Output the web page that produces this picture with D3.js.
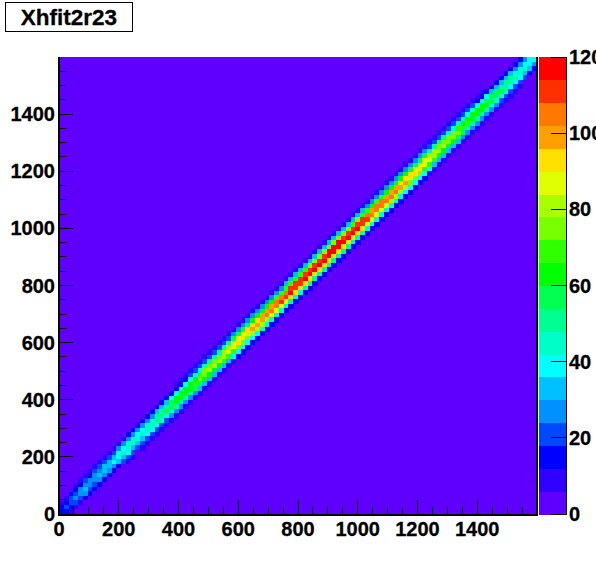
<!DOCTYPE html>
<html><head><meta charset="utf-8">
<style>html,body{margin:0;padding:0;background:#fff}svg{display:block}text{font-family:"Liberation Sans",Arial,sans-serif;font-weight:bold;fill:#000;stroke:#000;stroke-width:.3px}</style>
<script src="https://cdn.jsdelivr.net/npm/d3@7"></script></head><body><div id="c"></div>
<script>
const title = "Xhfit2r23";
const binWidth = 16;
const axisTicks = [0,200,400,600,800,1000,1200,1400];
const colorTicks = [0,20,40,60,80,100,120];
const levelColors = ["#5f00ff","#2f00ff","#0000ff","#0048ff","#0090ff","#00c0ff","#00ffff","#00ffc8","#00ff90","#00ff50","#00ff00","#30ff00","#78ff00","#a8ff00","#e0ff00","#ffe000","#ffa000","#ff7800","#ff3000","#ff0000"];
// counts along the diagonal, one entry per x bin
const ridge = [
16,18,20,24,27,30,28,29,30,32,
34,36,39,42,46,44,42,43,45,47,
50,52,55,58,62,63,62,65,67,72,
75,78,79,80,82,84,88,91,92,95,
97,98,100,102,105,107,109,111,115,113,
112,115,117,116,117,118,119,119,119,118,
116,114,116,112,109,105,107,106,105,104,
102,99,97,95,92,92,89,85,82,80,
78,76,75,73,68,66,65,64,62,60,
57,56,54,52,50,47,45,42,40,36];
// counts in the rows above the diagonal
const up1 = [
15,17,19,23,26,29,27,28,29,31,
33,35,37,40,44,42,40,41,43,45,
48,50,53,56,60,60,60,62,64,69,
72,75,76,77,79,81,84,87,88,91,
93,94,96,98,101,103,105,107,110,108,
108,110,112,111,112,113,114,114,114,113,
111,109,111,108,105,101,103,102,101,100,
98,95,93,91,88,88,85,82,79,77,
75,73,72,70,65,63,62,61,60,58,
55,54,52,50,48,45,43,40,38,35];
const up2 = [
10,11,12,15,17,19,17,18,19,20,
21,22,24,26,29,27,26,27,28,29,
31,32,34,36,38,39,38,40,42,45,
47,48,49,50,51,52,55,56,57,59,
60,61,62,63,65,66,68,69,71,70,
69,71,73,72,73,73,74,74,74,73,
72,71,72,69,68,65,66,66,65,64,
63,61,60,59,57,57,55,53,51,50,
48,47,47,45,42,41,40,40,38,37,
35,35,33,32,31,29,28,26,25,22];
const up3 = [
4,5,5,6,7,8,8,8,8,9,
9,10,11,11,12,12,11,12,12,13,
14,14,15,16,17,17,17,18,18,19,
20,21,21,22,22,23,24,25,25,26,
26,26,27,28,28,29,29,30,31,31,
30,31,32,31,32,32,32,32,32,32,
31,31,31,30,29,28,29,29,28,28,
28,27,26,26,25,25,24,23,22,22,
21,21,20,20,18,18,18,17,17,16,
15,15,15,14,14,13,12,11,11,10];
const up4 = [
1,2,2,2,2,3,3,3,3,3,
3,3,4,4,4,4,4,4,4,4,
5,5,5,5,6,6,6,6,6,6,
7,7,7,7,7,8,8,8,8,9,
9,9,9,9,9,10,10,10,10,10,
10,10,11,10,11,11,11,11,11,11,
10,10,10,10,10,9,10,10,9,9,
9,9,9,9,8,8,8,8,7,7,
7,7,7,7,6,6,6,6,6,5,
5,5,5,5,5,4,4,4,4,3];
// counts in the rows below the diagonal
const low1 = [
13,14,16,19,22,24,22,23,24,26,
27,29,31,34,37,35,34,34,36,38,
40,42,44,46,50,50,50,52,54,58,
60,62,63,64,66,67,70,73,74,76,
78,78,80,82,84,86,87,89,92,90,
90,92,94,93,94,94,95,95,95,94,
93,91,93,90,87,84,86,85,84,83,
82,79,78,76,74,74,71,68,66,64,
62,61,60,58,54,53,52,51,50,48,
46,45,43,42,40,38,36,34,32,29];
const low2 = [
7,8,8,10,11,13,12,12,13,13,
14,15,16,18,19,18,18,18,19,20,
21,22,23,24,26,26,26,27,28,30,
32,33,33,34,34,35,37,38,39,40,
41,41,42,43,44,45,46,47,48,47,
47,48,49,49,49,50,50,50,50,50,
49,48,49,47,46,44,45,45,44,44,
43,42,41,40,39,39,37,36,34,34,
33,32,32,31,29,28,27,27,26,25,
24,24,23,22,21,20,19,18,17,15];
const low3 = [
2,2,3,3,4,4,4,4,4,4,
4,5,5,5,6,6,5,6,6,6,
7,7,7,8,8,8,8,8,9,9,
10,10,10,10,11,11,11,12,12,12,
13,13,13,13,14,14,14,14,15,15,
15,15,15,15,15,15,15,15,15,15,
15,15,15,15,14,14,14,14,14,14,
13,13,13,12,12,12,12,11,11,10,
10,10,10,9,9,9,8,8,8,8,
7,7,7,7,7,6,6,5,5,5];
const bands = [[0,ridge],[1,up1],[2,up2],[3,up3],[4,up4],[-1,low1],[-2,low2],[-3,low3]];

const W=596,H=572, L=59,R=537,T=57,B=514;
const svg=d3.select("#c").append("svg").attr("width",W).attr("height",H);
const x=d3.scaleLinear().domain([0,1600]).range([L,R]);
const y=d3.scaleLinear().domain([0,1600]).range([B,T]);
const z=d3.scaleLinear().domain([0,120]).range([B,T]);
const level=v=>Math.min(levelColors.length-1,Math.floor(v/6));

// plot background, then the non-empty cells
svg.append("rect").attr("x",L).attr("y",T).attr("width",R-L).attr("height",B-T).attr("fill",levelColors[0]);
const cells=[];
ridge.forEach((_,k)=>bands.forEach(([s,b])=>{
  const r=k+s; if(r>=0&&r<ridge.length) cells.push({k,r,v:b[k]});
}));
svg.append("g").attr("shape-rendering","crispEdges").selectAll("rect").data(cells).join("rect")
  .attr("x",d=>x(d.k*binWidth)).attr("y",d=>y((d.r+1)*binWidth))
  .attr("width",d=>x((d.k+1)*binWidth)-x(d.k*binWidth)+.5)
  .attr("height",d=>y(d.r*binWidth)-y((d.r+1)*binWidth)+.5)
  .attr("fill",d=>levelColors[level(d.v)]);

// colour scale
svg.append("g").attr("shape-rendering","crispEdges").selectAll("rect").data(levelColors).join("rect")
  .attr("x",539).attr("width",27)
  .attr("y",(c,i)=>z((i+1)*6)).attr("height",(c,i)=>z(i*6)-z((i+1)*6)+.5).attr("fill",c=>c);

const crisp=svg.append("g").attr("stroke","#000").attr("stroke-width",1).attr("shape-rendering","crispEdges");
function line(a,b,c,d,w){crisp.append("line").attr("x1",a).attr("y1",b).attr("x2",c).attr("y2",d).attr("stroke-width",w||1);}
line(L-.5,T,L-.5,B+1,2);line(L-1,B+.5,R+1,B+.5,2);line(R-.5,T,R-.5,B+1,2);line(566,T,566,B+1,1);

d3.range(0,1601,50).forEach(v=>{
  const major=v%200===0, len=major?14:7;
  if(v<1600){line(x(v),B,x(v),B-len);line(L,y(v),L+len,y(v));}
});
colorTicks.forEach(v=>line(551,z(v),566,z(v)));

const fs=20;
axisTicks.forEach(v=>{
  svg.append("text").attr("x",x(v)).attr("y",536).attr("text-anchor","middle").attr("font-size",fs).text(v);
  svg.append("text").attr("x",55).attr("y",y(v)+7).attr("text-anchor","end").attr("font-size",fs).text(v);
});
colorTicks.forEach(v=>svg.append("text").attr("x",569).attr("y",z(v)+7).attr("font-size",fs).text(v));

svg.append("rect").attr("x",5.5).attr("y",2.5).attr("width",127).attr("height",29).attr("fill","#fff").attr("stroke","#000");
svg.append("text").attr("x",69).attr("y",25).attr("text-anchor","middle").attr("font-size",22.5).text(title);
</script></body></html>
